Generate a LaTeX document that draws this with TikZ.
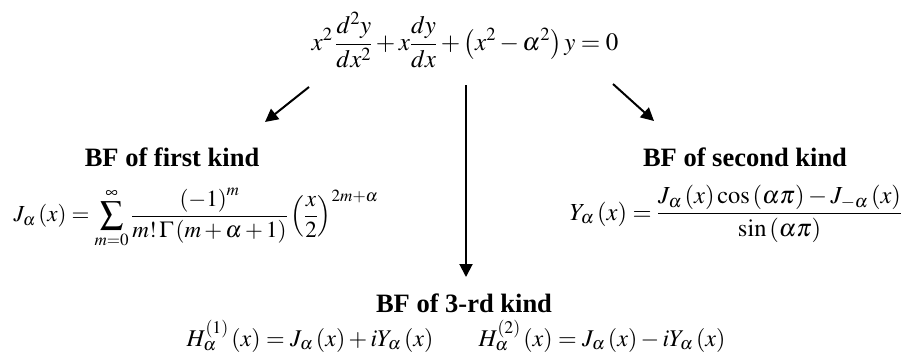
\documentclass[tikz,border=0pt]{standalone}
\usepackage{mathptmx}
\usepackage{fontspec}
\setmainfont{Liberation Serif}
\usetikzlibrary{arrows.meta, positioning}
\tikzset{
  every picture/.style={line width=2pt},
  formula/.style={font={\fontsize{#1}{28}\selectfont}, inner sep=0pt},
  formula/.default=23,
  kindtitle/.style={font={\fontsize{26.5}{30}\selectfont\bfseries}, inner sep=0pt},
  arrow/.style={-{Triangle[length=13pt, width=13pt]}, draw=black},
}

\begin{document}
\begin{tikzpicture}[x=1pt, y=-1pt]
  \useasboundingbox (0,0) rectangle (905,351);
  % Bessel equation
  \node[formula=25] (ode) at (465,40) {$\displaystyle x^2\,\frac{d^2y}{dx^2}+x\frac{dy}{dx}+\left(x^2-\alpha^2\right)y=0$};
  % first kind
  \node[kindtitle] (firsttitle) at (172,157) {BF of first kind};
  \node[formula] (firstform) at (196,218) {$\displaystyle J_\alpha\left(x\right)=\sum_{m=0}^{\infty}\frac{\left(-1\right)^m}{m!\,\Gamma\left(m+\alpha+1\right)}\left(\frac{x}{2}\right)^{2m+\alpha}$};
  % second kind
  \node[kindtitle] (secondtitle) at (745,157) {BF of second kind};
  \node[formula=24.5] (secondform) at (736,214) {$\displaystyle Y_\alpha\left(x\right)=\frac{J_\alpha\left(x\right)\cos\left(\alpha\pi\right)-J_{-\alpha}\left(x\right)}{\sin\left(\alpha\pi\right)}$};
  % third kind
  \node[kindtitle] (thirdtitle) at (464,303) {BF of 3-rd kind};
  \node[formula=24] (hankelone) at (310,336) {$H_\alpha^{(1)}\left(x\right)=J_\alpha\left(x\right)+iY_\alpha\left(x\right)$};
  \node[formula=24] (hankeltwo) at (602,336) {$H_\alpha^{(2)}\left(x\right)=J_\alpha\left(x\right)-iY_\alpha\left(x\right)$};
  % arrows
  \coordinate (leftstart) at (309,87);
  \coordinate (leftend) at (265,122);
  \coordinate (midstart) at (466,85);
  \coordinate (midend) at (466,277);
  \coordinate (rightstart) at (613,84);
  \coordinate (rightend) at (654,121);
  \draw[arrow] (leftstart) -- (leftend);
  \draw[arrow] (midstart) -- (midend);
  \draw[arrow] (rightstart) -- (rightend);
\end{tikzpicture}
\end{document}
